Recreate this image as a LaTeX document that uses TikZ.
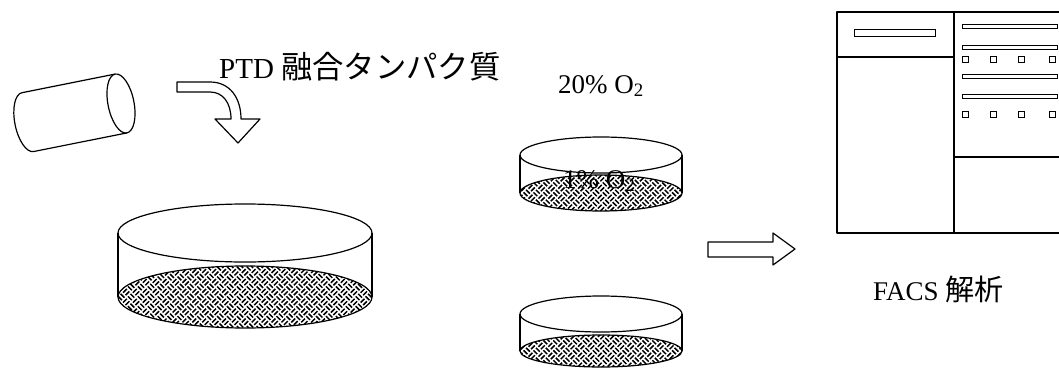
\documentclass[tikz,border=0pt]{standalone}
\usepackage{fontspec}
\setmainfont{Liberation Serif}
\newfontfamily\jp[Scale=1.08]{Noto Sans CJK JP}

\tikzset{
outline/.style={
draw,
line width=1.2pt,
line join=round
},
thinbox/.style={
draw,
line width=1pt
},
weave/.style={
line width=1.5pt
},
lbl/.style={
anchor=base west,
inner sep=0pt,
font=\fontsize{27}{30}\selectfont
}
}

\begin{document}
\begin{tikzpicture}[x=1pt,y=1pt]
\useasboundingbox (0,0) rectangle (1059,368);
\clip (0,0) rectangle (1059,368);

% labels
\node[lbl,font=\fontsize{29}{32}\selectfont](ptd) at (219,290){PTD {\jp 融合タンパク質}};
\node[lbl](high) at (558,275){20\% O\textsubscript{2}};
\node[lbl](low) at (563,180){1\% O\textsubscript{2}};
\node[lbl](facs) at (873,68){FACS {\jp 解析}};

% tube with the protein
\begin{scope}[shift={(121,264.5)},rotate=11.3]
\draw[outline](0,0) ellipse[x radius=13,y radius=30];
\draw[outline](0,30)--(-95,30) arc[start angle=90,end angle=270,x radius=13,y radius=30]--(0,-30);
\end{scope}

% bent arrow
\draw[outline](177,286)--(210,286) .. controls (230,286) and (241,270) .. (241,249)
  --(260,249)--(238,225)--(215,249)--(231,249) .. controls (231,265) and (223,276) .. (210,276)
  --(177,276)--cycle;

% dishes: big one, 20% and 1%; cells woven on the bottom
\foreach \cx/\ty/\by/\rx/\ry/\ryb in {245/135/71/127/29/31,601/213/175/81/18/18,601/54/17/81/18/16}{
\pgfmathtruncatemacro\n{(\rx+\ryb)/7/1.41+1}
\begin{scope}
\clip(\cx,\by) ellipse[x radius=\rx,y radius=\ryb];
\begin{scope}[shift={(\cx,\by)},rotate=45]
\foreach \i in {-\n,...,\n}
\foreach \j in {-\n,...,\n}{
\pgfmathtruncatemacro\odd{mod(\i+\j+100,2)}
\ifnum\odd=0
\draw[weave](\i*7+0.8,\j*7+1.75)--++(5.4,0) (\i*7+0.8,\j*7+5.25)--++(5.4,0);
\else
\draw[weave](\i*7+1.75,\j*7+0.8)--++(0,5.4) (\i*7+5.25,\j*7+0.8)--++(0,5.4);
\fi
}
\end{scope}
\end{scope}
\draw[outline](\cx,\by) ellipse[x radius=\rx,y radius=\ryb];
\draw[outline](\cx-\rx,\ty)--(\cx-\rx,\by) (\cx+\rx,\ty)--(\cx+\rx,\by);
\draw[outline](\cx,\ty) ellipse[x radius=\rx,y radius=\ry];
}

% hollow arrow
\draw[outline](708,126)--(773,126)--(773,135)--(795,119)--(773,103)--(773,111)--(708,111)--cycle;

% FACS machine
\draw[outline](837,356) rectangle (1075,135);
\draw[outline](954,356)--(954,135);
\draw[outline](837,311)--(954,311);
\draw[outline](954,211)--(1075,211);
\draw[thinbox](854,339) rectangle (935,332);
\foreach \y in {344,323,294,274}
\draw[thinbox](962,\y) rectangle (1057,\y-4);
\foreach \x in {962,990,1018,1049}
\foreach \y in {312,257}
\draw[thinbox](\x,\y) rectangle (\x+6,\y-6);
\end{tikzpicture}
\end{document}
